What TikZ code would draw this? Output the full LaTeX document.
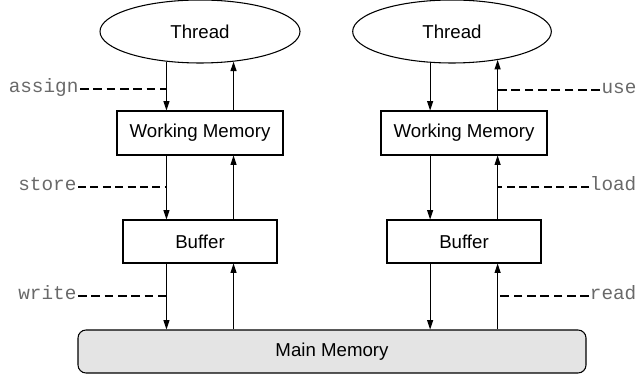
\documentclass[tikz,border=0pt]{standalone}
\usepackage{fontspec}
\setmainfont{Liberation Sans}
\setmonofont{Liberation Mono}
\usetikzlibrary{arrows.meta,shapes.geometric}
\definecolor{memgray}{RGB}{228,228,228}
\definecolor{opgray}{RGB}{105,105,105}

\begin{document}
\begin{tikzpicture}[x=0.75pt,y=-0.75pt,
    font=\fontsize{14pt}{16pt}\selectfont,
    thread/.style={ellipse,draw=black,line width=0.8pt,inner sep=0pt,minimum width=150pt,minimum height=47.25pt},
    memobox/.style={rectangle,draw=black,line width=0.8pt,inner sep=0pt},
    flow/.style={line width=0.8pt,-{Triangle[length=7pt,width=4.5pt]}},
    opname/.style={font=\fontsize{14.5pt}{16pt}\ttfamily,text=opgray,inner sep=1pt},
    boldop/.style={line width=2.2pt,dash pattern=on 6.5pt off 3.5pt},
    thinop/.style={line width=0.8pt,dash pattern=on 6pt off 3.3pt}]
  \useasboundingbox (0,0) rectangle (638,377);
  \clip (0,0) rectangle (638,377);

  % threads
  \node[thread] (thrL) at (200,31.5) {Thread};
  \node[thread,minimum width=149pt] (thrR) at (452,31.5) {Thread};

  % working memory and buffers
  \node[memobox,minimum width=124.5pt,minimum height=33pt] (wmL) at (200,133) {Working Memory};
  \node[memobox,minimum width=124.5pt,minimum height=33pt] (wmR) at (464,133) {Working Memory};
  \node[memobox,minimum width=115.5pt,minimum height=32.25pt] (bufL) at (200,241.5) {Buffer};
  \node[memobox,minimum width=115.5pt,minimum height=32.25pt] (bufR) at (464,241.5) {Buffer};

  % main memory
  \node[memobox,fill=memgray,rounded corners=6pt,minimum width=381pt,minimum height=32.25pt] (main) at (332,351.5) {Main Memory};

  % left side: thread -> main memory
  \draw[flow] (thrL.-138) -- (thrL.-138 |- wmL.north);
  \draw[flow] (thrL.-138 |- wmL.south) -- (thrL.-138 |- bufL.north);
  \draw[flow] (thrL.-138 |- bufL.south) -- (thrL.-138 |- main.north);
  \draw[flow] (thrL.-42 |- wmL.north) -- (thrL.-42);
  \draw[flow] (thrL.-42 |- bufL.north) -- (thrL.-42 |- wmL.south);
  \draw[flow] (thrL.-42 |- main.north) -- (thrL.-42 |- bufL.south);

  % right side
  \draw[flow] (thrR.-125.6) -- (thrR.-125.6 |- wmR.north);
  \draw[flow] (thrR.-125.6 |- wmR.south) -- (thrR.-125.6 |- bufR.north);
  \draw[flow] (thrR.-125.6 |- bufR.south) -- (thrR.-125.6 |- main.north);
  \draw[flow] (thrR.-32 |- wmR.north) -- (thrR.-32);
  \draw[flow] (thrR.-32 |- bufR.north) -- (thrR.-32 |- wmR.south);
  \draw[flow] (thrR.-32 |- main.north) -- (thrR.-32 |- bufR.south);

  % operations
  \node[opname,anchor=mid east] (assign) at (80,89) {assign};
  \node[opname,anchor=mid east] (store) at (78,187) {store};
  \node[opname,anchor=mid east] (write) at (78,296) {write};
  \node[opname,anchor=mid west] (use) at (600,90) {use};
  \node[opname,anchor=mid west,inner sep=0.5pt] (load) at (589,187) {load};
  \node[opname,anchor=mid west,inner sep=0.5pt] (read) at (589,296) {read};

  \draw[boldop] (assign.mid east) -- (assign.mid east -| thrL.-138);
  \draw[thinop] (store.mid east) -- (store.mid east -| thrL.-138);
  \draw[boldop] (write.mid east) -- (write.mid east -| thrL.-138);
  \draw[boldop] (use.mid west) -- (use.mid west -| thrR.-32);
  \draw[thinop] (load.mid west) -- (load.mid west -| thrR.-32);
  \draw[boldop] (read.mid west) -- (read.mid west -| thrR.-32);
\end{tikzpicture}
\end{document}
